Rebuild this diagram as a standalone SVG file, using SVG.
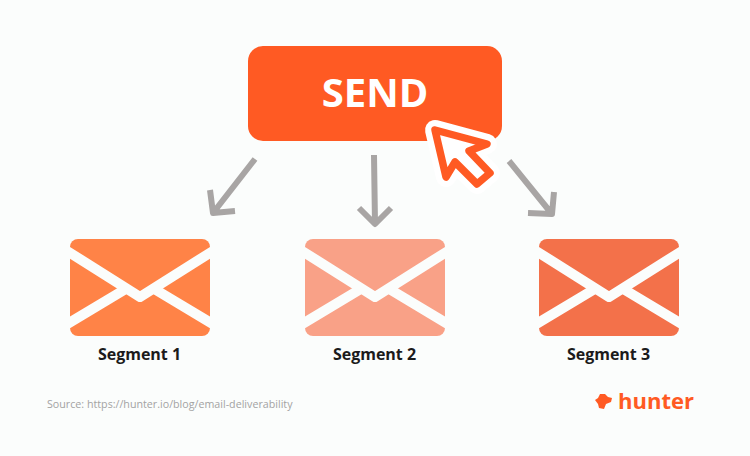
<svg xmlns="http://www.w3.org/2000/svg" width="750" height="456" viewBox="0 0 750 456">
<style>
.arrow{fill:none;stroke:#a8a5a4;stroke-width:6;stroke-linejoin:round}
.flap{fill:none;stroke:#fbfdfc;stroke-width:10;stroke-linejoin:round}
.label{font:700 16px "Open Sans",sans-serif;fill:#1b1b1b;text-anchor:middle}
</style>
<defs>
<clipPath id="env"><rect x="70" y="239" width="140" height="97" rx="8"/></clipPath>
<g id="lines" clip-path="url(#env)">
<path class="flap" d="M64 249L140 297L216 249"/>
<path class="flap" d="M64 326L124 290M216 326L156 290"/>
</g>
</defs>
<rect width="750" height="456" fill="#fbfdfc"/>
<g id="connectors">
<path class="arrow" d="M255 159L213 213M210 190L213 213L235 211"/>
<path class="arrow" d="M374 155L375 224M359 208L375 224L391 208"/>
<path class="arrow" d="M509 161L552 214M528 213L552 214L554 192"/>
</g>
<g id="send">
<rect x="248" y="46" width="254" height="95" rx="15" fill="#ff5a23"/>
<text x="375" y="107" font-family="'Open Sans',sans-serif" font-weight="700" font-size="40" fill="#fff" text-anchor="middle">SEND</text>
</g>
<g id="cursor">
<path d="M435 130L487 144L469 151L490 173L477 184L455 162L446 177Z" fill="#fff" stroke="#fff" stroke-width="20" stroke-linejoin="round"/>
<path d="M435 130L487 144L469 151L490 173L477 184L455 162L446 177Z" fill="#fff" stroke="#ff5a23" stroke-width="7.500" stroke-linejoin="round"/>
</g>
<g id="segment1">
<rect x="70" y="239" width="140" height="97" rx="8" fill="#ff8347"/>
<use href="#lines"/>
<text class="label" x="139.500" y="360">Segment 1</text>
</g>
<g id="segment2">
<rect x="305" y="239" width="140" height="97" rx="8" fill="#f9a187"/>
<use href="#lines" x="235"/>
<text class="label" x="374.500" y="360">Segment 2</text>
</g>
<g id="segment3">
<rect x="539" y="239" width="140" height="97" rx="8" fill="#f3714a"/>
<use href="#lines" x="469"/>
<text class="label" x="608.500" y="360">Segment 3</text>
</g>
<text id="source" x="47" y="408" font-family="'Open Sans',sans-serif" font-size="10.7" fill="#a3a3a3">Source: https://hunter.io/blog/email-deliverability</text>
<g id="logo">
<path d="M595 400L598 398L600 394L605 394L608 397L612 398L611 402L606 404L604 409L599 408L598 404Z" fill="#ff5a23"/>
<text x="618" y="409" font-family="'Open Sans',sans-serif" font-weight="700" font-size="22" fill="#ff5a23">hunter</text>
</g>
</svg>
